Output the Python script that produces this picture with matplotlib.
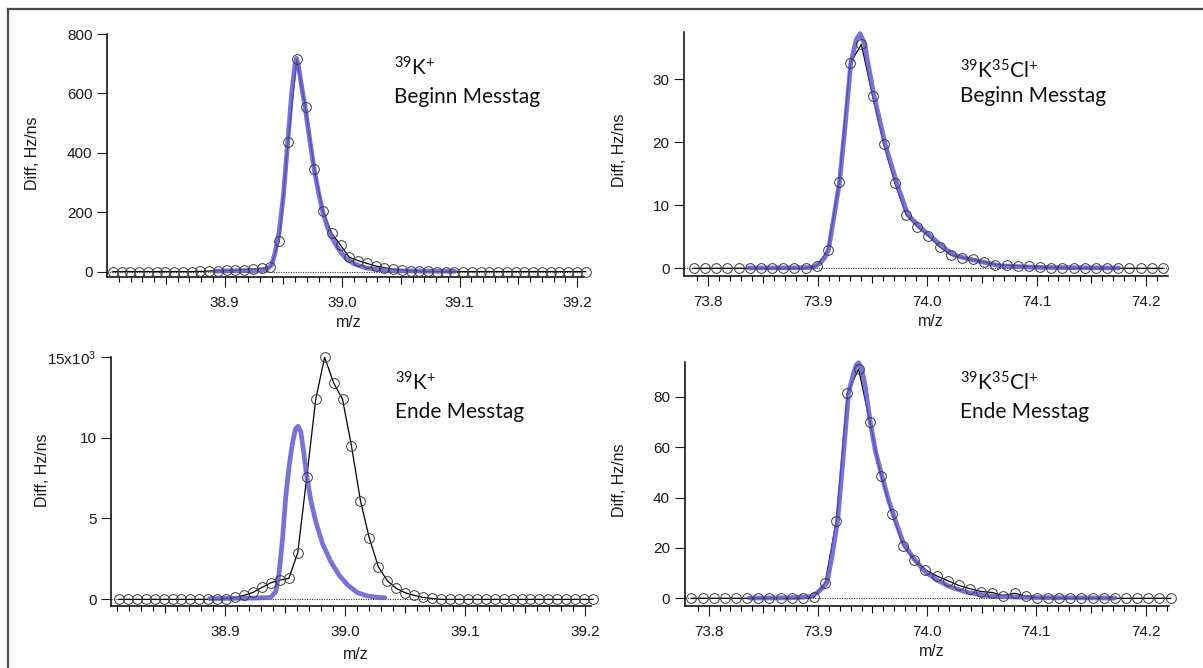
import numpy as np
import matplotlib
matplotlib.use("Agg")
import matplotlib.pyplot as plt
from matplotlib.lines import Line2D
from matplotlib.ticker import FixedLocator

plt.rcParams['font.family'] = ['Liberation Sans', 'DejaVu Sans']

# --- 39K+ , Beginn Messtag (Hz/ns) ---
k_beg_x0, k_beg_dx = 38.805, 0.00745
k_beg_y = [0, 0, 0, 0, 0, 0, 0, 0, 0, 0,
           1, 2, 3, 4, 5, 7, 9, 11, 17, 103,
           435, 715, 553, 347, 203, 129, 89, 48, 37, 28,
           19, 13.5, 8, 5, 3, 2, 1, 0, 0, 0,
           0, 0, 0, 0, 0, 0, 0, 0, 0, 0,
           0, 0, 0, 0, 0]
k_beg_fit_x = [38.893, 38.925, 38.936, 38.9401, 38.9429, 38.9463, 38.9500, 38.9537,
               38.9571, 38.9599, 38.9613, 38.9630, 38.9656, 38.9687, 38.9727, 38.9761,
               38.9801, 38.9837, 38.9874, 38.9911, 38.9954, 38.9996, 39.0039, 39.0096,
               39.0152, 39.0209, 39.0294, 39.0379, 39.0493, 39.096]
k_beg_fit_y = [2, 4, 8, 22, 62, 129, 252, 432,
               600, 696, 718, 690, 623, 550, 438, 348,
               264, 199, 151, 118, 86, 62, 42, 28,
               19, 12, 8, 4.5, 3, 1]

# --- 39K35Cl+ , Beginn Messtag ---
kcl_beg_x0, kcl_beg_dx = 73.787, 0.0102
kcl_beg_y = [0, 0, 0, 0, 0, 0, 0, 0, 0, 0,
             0, 0.4, 2.9, 13.6, 32.5, 35.5, 27.3, 19.7, 13.5, 8.5,
             6.6, 5.1, 3.4, 2.1, 1.7, 1.4, 1.0, 0.6, 0.5, 0.4,
             0.3, 0.2, 0.1, 0.1, 0, 0, 0, 0, 0, 0,
             0, 0, 0]
kcl_beg_fit_x = [73.837, 73.880, 73.8962, 73.9023, 73.9068, 73.9099, 73.9145, 73.9200,
                 73.9251, 73.9303, 73.9352, 73.9388, 73.9434, 73.9449, 73.9516, 73.9617,
                 73.9723, 73.9824, 73.9930, 74.0037, 74.0143, 74.0247, 74.0350, 74.0454,
                 74.0560, 74.0661, 74.100, 74.175]
kcl_beg_fit_y = [0.05, 0.08, 0.16, 0.8, 1.74, 2.9, 7.7, 13.6,
                 22.5, 32.5, 36.2, 37.2, 35.4, 33.5, 27.3, 19.7,
                 13.5, 8.5, 6.6, 5.0, 3.4, 2.1, 1.6, 1.2,
                 0.8, 0.4, 0.15, 0.05]

# --- 39K+ , Ende Messtag (x10^3 Hz/ns) ---
k_end_x0, k_end_dx = 38.8115, 0.00745
k_end_y = [0, 0, 0, 0, 0, 0, 0, 0, 0, 0,
           0, 0, 0.05, 0.12, 0.25, 0.43, 0.74, 1.03, 1.19, 1.30,
           2.89, 7.54, 12.36, 14.96, 13.39, 12.36, 9.48, 6.1, 3.77, 2.02,
           1.15, 0.68, 0.41, 0.25, 0.12, 0.06, 0, 0, 0, 0,
           0, 0, 0, 0, 0, 0, 0, 0, 0, 0,
           0, 0, 0, 0]
k_end_fit_x = [38.887, 38.925, 38.9379, 38.9421, 38.9449, 38.9477, 38.9505, 38.9532,
               38.9560, 38.9588, 38.9608, 38.9630, 38.9652, 38.9680, 38.9713, 38.9755,
               38.9810, 38.9880, 38.9949, 39.0019, 39.0102, 39.0186, 39.025, 39.033]
k_end_fit_y = [0.05, 0.08, 0.12, 0.47, 1.6, 3.67, 6.35, 8.2,
               9.64, 10.57, 10.7, 10.36, 9.23, 7.58, 6.14, 4.8,
               3.46, 2.33, 1.5, 0.89, 0.41, 0.21, 0.14, 0.1]

# --- 39K35Cl+ , Ende Messtag ---
kcl_end_x0, kcl_end_dx = 73.7843, 0.0102
kcl_end_y = [0, 0, 0, 0, 0, 0, 0, 0, 0, 0,
             0, 0.4, 6.2, 30.8, 81.6, 91.0, 70.1, 48.6, 33.6, 20.9,
             15.2, 11.3, 8.9, 7.0, 5.1, 3.8, 2.7, 2.3, 1.1, 2.0,
             0.9, 0.3, 0.2, 0, 0, 0, 0, 0, 0, 0,
             0, 0, 0, 0]
kcl_end_fit_x = [73.837, 73.875, 73.8932, 73.8993, 73.9038, 73.9084, 73.9129, 73.9181,
                 73.9230, 73.9281, 73.9327, 73.9352, 73.9373, 73.9403, 73.9434, 73.9479,
                 73.9525, 73.9586, 73.9647, 73.9708, 73.9784, 73.9875, 73.9982, 74.0088,
                 74.0210, 74.0362, 74.0545, 74.0667, 74.100, 74.172]
kcl_end_fit_y = [0.1, 0.2, 0.66, 2.2, 4.0, 6.2, 16.5, 30.8,
                 54.9, 81.6, 89.3, 92.6, 93.5, 90.6, 84.0, 70.1,
                 58.8, 48.6, 39.0, 31.1, 21.8, 15.9, 10.6, 7.3,
                 4.6, 2.4, 1.06, 0.66, 0.3, 0.1]

ion_k = r'$\mathregular{^{39}K^{+}}$'
ion_kcl = r'$\mathregular{^{39}K^{35}Cl^{+}}$'

BLUE = '#5c5cd6'
W, H = 1203, 668

fig = plt.figure(figsize=(W / 100, H / 100), dpi=100)


def px_rect(left, top, right, bottom):
    return [left / W, 1 - bottom / H, (right - left) / W, (bottom - top) / H]


def panel(rect, x0, dx, ys, fx, fy, xlim, ylim, yticks, ylabels,
          ion, day, txt, ylab_xy, xlab_xy):
    ax = fig.add_axes(rect)
    xs = x0 + dx * np.arange(len(ys))
    ax.axhline(0, color='#333333', lw=0.8, ls=(0, (1, 1.2)), zorder=1)
    ax.plot(xs, ys, color='black', lw=0.9, zorder=3, clip_on=False)
    ax.plot(fx, fy, color=BLUE, lw=3.4, alpha=0.86, zorder=4, clip_on=False,
            solid_joinstyle='round', solid_capstyle='round')
    ax.plot(xs, ys, 'o', ms=7.0, mfc='none', mec='#3a3a3a', mew=0.7,
            zorder=5, clip_on=False)
    ax.set_xlim(*xlim)
    ax.set_ylim(*ylim)

    for s in ('top', 'right'):
        ax.spines[s].set_visible(False)
    for s in ('left', 'bottom'):
        ax.spines[s].set_linewidth(1.1)

    lo, hi = xlim
    grid = np.round(np.arange(np.ceil(lo * 100) / 100, hi, 0.01), 2)
    grid = grid[grid > lo + 0.004]
    major = [t for t in grid if abs(t * 10 - round(t * 10)) < 1e-6]
    mid = [t for t in grid if abs(t * 20 - round(t * 20)) < 1e-6 and t not in major]
    minor = [t for t in grid if t not in major and t not in mid]
    ax.xaxis.set_major_locator(FixedLocator(major))
    ax.xaxis.set_minor_locator(FixedLocator(minor))
    ax.set_xticklabels(['%.1f' % t for t in major])
    ax.tick_params(axis='x', which='major', length=7.5, width=0.8, pad=6.5,
                   labelsize=11, colors='#1a1a1a')
    ax.tick_params(axis='x', which='minor', length=3.3, width=0.8)
    sec = ax.secondary_xaxis('bottom')
    sec.set_xticks(mid)
    sec.tick_params(length=5.2, width=0.8, labelbottom=False)
    sec.spines['bottom'].set_visible(False)

    ax.set_yticks(yticks)
    ax.set_yticklabels(ylabels)
    ax.tick_params(axis='y', length=7.5, width=0.8, pad=3, labelsize=11,
                   colors='#1a1a1a')

    ax.set_ylabel('Diff, Hz/ns', fontsize=11.5, color='#1a1a1a')
    ax.yaxis.label.set_va('center')
    ax.yaxis.set_label_coords(*ylab_xy)
    ax.set_xlabel('m/z', fontsize=11.5, color='#1a1a1a')
    ax.xaxis.label.set_va('center')
    ax.xaxis.set_label_coords(*xlab_xy)

    tx, ty1, ty2 = txt
    ax.text(tx, ty1, ion, transform=ax.transAxes, family='Lato', fontsize=15,
            va='baseline', color='#111111')
    ax.text(tx, ty2, day, transform=ax.transAxes, family='Lato', fontsize=15,
            va='baseline', color='#111111')
    return ax


panel(px_rect(107, 34, 583.6, 276.7), k_beg_x0, k_beg_dx, k_beg_y,
      k_beg_fit_x, k_beg_fit_y, (38.80, 39.2055), (-17, 800),
      [0, 200, 400, 600, 800], ['0', '200', '400', '600', '800'],
      ion_k, 'Beginn Messtag', (0.602, 0.827, 0.714), (-0.156, 0.51), (0.508, -0.19))

panel(px_rect(684, 31.7, 1168, 276), kcl_beg_x0, kcl_beg_dx, kcl_beg_y,
      kcl_beg_fit_x, kcl_beg_fit_y, (73.778, 74.220), (-1.22, 37.5),
      [0, 10, 20, 30], ['0', '10', '20', '30'],
      ion_kcl, 'Beginn Messtag', (0.570, 0.809, 0.713), (-0.134, 0.516), (0.51, -0.188))

panel(px_rect(111, 356.7, 591, 606), k_end_x0, k_end_dx, k_end_y,
      k_end_fit_x, k_end_fit_y, (38.805, 39.2046), (-0.41, 15),
      [0, 5, 10, 15], ['0', '5', '10', r'15x10$\mathregular{^3}$'],
      ion_k, 'Ende Messtag', (0.592, 0.866, 0.753), (-0.142, 0.546), (0.51, -0.193))

panel(px_rect(684.6, 361.7, 1168.5, 606), kcl_end_x0, kcl_end_dx, kcl_end_y,
      kcl_end_fit_x, kcl_end_fit_y, (73.778, 74.221), (-3.05, 93.9),
      [0, 20, 40, 60, 80], ['0', '20', '40', '60', '80'],
      ion_kcl, 'Ende Messtag', (0.569, 0.884, 0.768), (-0.1355, 0.516), (0.51, -0.187))

# frame around the figure (top and left edges only visible)
fig.add_artist(Line2D([8 / W, 1], [1 - 9 / H, 1 - 9 / H], transform=fig.transFigure,
                      color='#4a4a4a', lw=1.6))
fig.add_artist(Line2D([8 / W, 8 / W], [0, 1 - 9 / H], transform=fig.transFigure,
                      color='#4a4a4a', lw=1.6))

fig.savefig('out.png', dpi=100)
